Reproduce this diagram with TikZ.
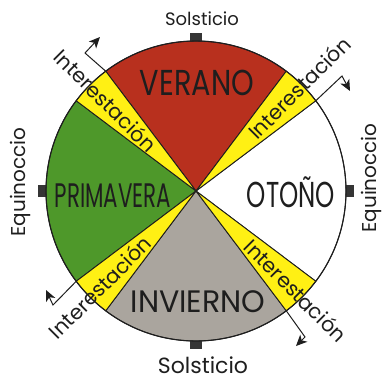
\documentclass[tikz,border=0pt]{standalone}
\usepackage{fontspec}
\setmainfont{Poppins}
\usepackage{xcolor}
\usetikzlibrary{arrows.meta, calc}

\definecolor{verano}{RGB}{184,48,30}
\definecolor{primavera}{RGB}{78,152,42}
\definecolor{invierno}{RGB}{170,165,158}
\definecolor{otono}{RGB}{255,255,255}
\definecolor{interest}{RGB}{255,240,20}
\definecolor{ink}{RGB}{30,30,30}

\begin{document}
\begin{tikzpicture}[
    x=1pt, y=1pt,
    every node/.style={inner sep=0pt, text=ink},
    sector/.style={draw=ink, line width=0.9pt, line join=round},
    season/.style={anchor=base},
    inter/.style={font=\fontsize{20.5}{20.5}\selectfont},
    solst/.style={anchor=base},
    equin/.style={rotate=90, font=\fontsize{20}{20}\selectfont},
    notch/.style={rectangle, fill=ink!90, minimum width=12pt, minimum height=8pt},
    flow/.style={-{Stealth[length=11pt, width=10pt, inset=3pt]}, line width=1pt, ink}
]
\useasboundingbox (-196,-190) rectangle (186,191);

% ── Seasons ──
\filldraw[sector, fill=verano]    (0,0) -- (53:150pt)  arc[start angle=53,  end angle=127, radius=150pt] -- cycle;
\filldraw[sector, fill=primavera] (0,0) -- (143:150pt) arc[start angle=143, end angle=217, radius=150pt] -- cycle;
\filldraw[sector, fill=invierno]  (0,0) -- (233:150pt) arc[start angle=233, end angle=307, radius=150pt] -- cycle;
\filldraw[sector, fill=otono]     (0,0) -- (323:150pt) arc[start angle=323, end angle=397, radius=150pt] -- cycle;

% ── Interseasons ──
\filldraw[sector, fill=interest] (0,0) -- (37:150pt)  arc[start angle=37,  end angle=53,  radius=150pt] -- cycle;
\filldraw[sector, fill=interest] (0,0) -- (127:150pt) arc[start angle=127, end angle=143, radius=150pt] -- cycle;
\filldraw[sector, fill=interest] (0,0) -- (217:150pt) arc[start angle=217, end angle=233, radius=150pt] -- cycle;
\filldraw[sector, fill=interest] (0,0) -- (307:150pt) arc[start angle=307, end angle=323, radius=150pt] -- cycle;

% ── Solstice / equinox marks ──
\node[notch] (soltop) at (90:154pt) {};
\node[notch] (solbot) at (270:154pt) {};
\node[notch, rotate=90] (eqleft)  at (180:154pt) {};
\node[notch, rotate=90] (eqright) at (0:154pt) {};

\draw[ink, line width=1.1pt] (0,0) circle[radius=150pt];

% ── Season labels ──
\node[season, font=\fontsize{36}{36}\selectfont, xscale=0.8]  (verano)    at (1,96)     {VERANO};
\node[season, font=\fontsize{34}{34}\selectfont, xscale=0.63] (primavera) at (-83,-16)  {PRIMAVERA};
\node[season, font=\fontsize{36}{36}\selectfont, xscale=0.68] (otono)     at (95,-16)   {OTOÑO};
\node[season, font=\fontsize{31}{31}\selectfont, xscale=0.97] (invierno)  at (2,-121)   {INVIERNO};

% ── Transition arrows ──
\coordinate (ulrim)  at (127:150pt);
\coordinate (ulbend) at (-111,138);
\coordinate (ultip)  at (-96,154);
\coordinate (urrim)  at (37:150pt);
\coordinate (urbend) at (146,115);
\coordinate (urtip)  at (154,100);
\coordinate (lrrim)  at (307:150pt);
\coordinate (lrbend) at (109,-146);
\coordinate (lrtip)  at (100,-155);
\coordinate (llrim)  at (217:150pt);
\coordinate (llbend) at (-143,-114);
\coordinate (lltip)  at (-150,-99);

\draw[flow] (ulrim) -- (ulbend) -- (ultip);
\draw[flow] (urrim) -- (urbend) -- (urtip);
\draw[flow] (lrrim) -- (lrbend) -- (lrtip);
\draw[flow] (llrim) -- (llbend) -- (lltip);

% ── Interseason labels ──
\node[inter, rotate=-45] (interul) at (135:128pt) {Interestación};
\node[inter, rotate=45]  (interur) at (45:146pt)  {Interestación};
\node[inter, rotate=-45] (interlr) at (315:141pt) {Interestación};
\node[inter, rotate=45]  (interll) at (225:136pt) {Interestación};

% ── Solstices and equinoxes ──
\node[solst, font=\fontsize{18}{18}\selectfont] (soltxt) at (6,166)   {Solsticio};
\node[solst, font=\fontsize{22}{22}\selectfont] (soltxb) at (7,-182)  {Solsticio};
\node[equin] (eqtxl) at (-176,9) {Equinoccio};
\node[equin] (eqtxr) at (175,13) {Equinoccio};

\end{tikzpicture}
\end{document}
